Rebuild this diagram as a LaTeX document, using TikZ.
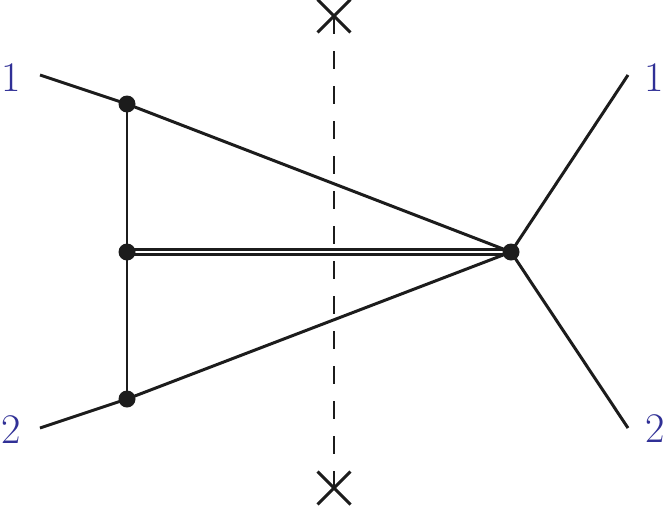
\documentclass[tikz,border=0pt]{standalone}
\usepackage{tikz}
\usetikzlibrary{shapes.misc, backgrounds}
\usepackage{xcolor}
\definecolor{cLabel}{RGB}{48, 48, 150}
\definecolor{cLine}{RGB}{28, 28, 28}

\begin{document}
\begin{tikzpicture}[
    leg/.style={draw=cLine, line width=1.7pt},
    vtx/.style={circle, fill=cLine, inner sep=0pt, minimum size=0.34cm},
    ext/.style={inner sep=0pt, text=cLabel, font=\fontsize{24}{28}\selectfont},
    cut/.style={draw=cLine, line width=1.7pt, dash pattern=on 0.35cm off 0.35cm},
    cutend/.style={cross out, draw=cLine, line width=1.7pt, inner sep=0pt, minimum size=0.6cm},
    heavy/.style={draw=cLine, double=white, double distance=0.04cm, line width=0.06cm}
]
\useasboundingbox (0,0) rectangle (13.28,10.12);

% external points
\coordinate (in1) at (0.80, 8.62);
\coordinate (in2) at (0.80, 1.56);
\coordinate (out1) at (12.56, 8.62);
\coordinate (out2) at (12.56, 1.56);

\node[ext] (lab-in1) at (0.22, 8.56) {1};
\node[ext] (lab-in2) at (0.22, 1.52) {2};
\node[ext] (lab-out1) at (13.08, 8.56) {1};
\node[ext] (lab-out2) at (13.10, 1.54) {2};

% vertices
\node[vtx] (v1) at (2.54, 8.04) {};
\node[vtx] (v0) at (2.54, 5.08) {};
\node[vtx] (v2) at (2.54, 2.14) {};
\node[vtx] (w) at (10.22, 5.08) {};

% cut
\node[cutend] (cuttop) at (6.68, 9.80) {};
\node[cutend] (cutbot) at (6.68, 0.36) {};

\begin{scope}[on background layer]
\draw[cut] (cuttop.center) -- (cutbot.center);
\draw[leg] (in1) -- (v1.center) -- (w.center);
\draw[leg] (in2) -- (v2.center) -- (w.center);
\draw[leg] (v1.center) -- (v2.center);
\draw[leg] (w.center) -- (out1);
\draw[leg] (w.center) -- (out2);
\draw[heavy] (v0.center) -- (w.center);
\end{scope}

\end{tikzpicture}
\end{document}
